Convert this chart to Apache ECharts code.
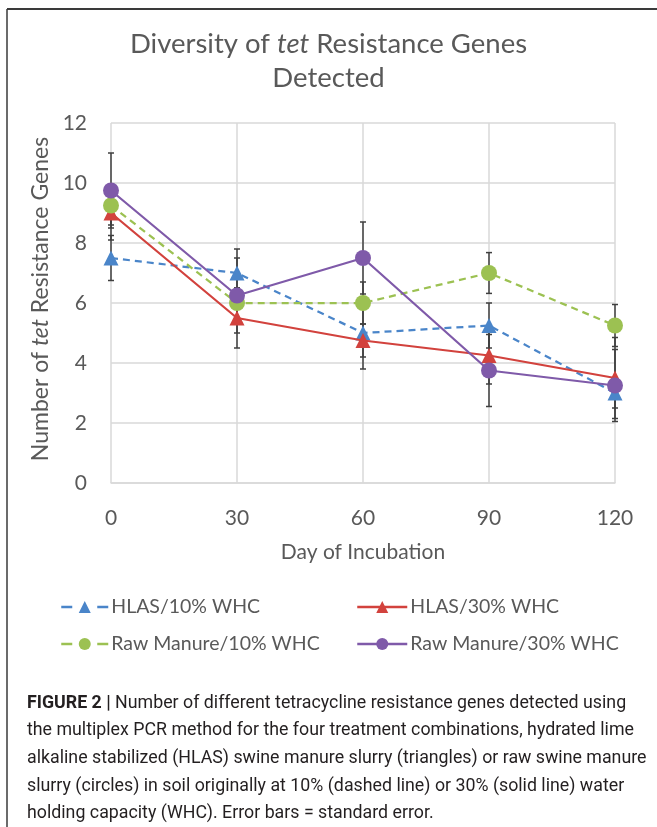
<!DOCTYPE html>
<html>
<head>
<meta charset="utf-8">
<script src="https://cdn.jsdelivr.net/npm/echarts@6/dist/echarts.min.js"></script>
<style>
  html, body { margin: 0; padding: 0; background: #fff; }
  #chart { width: 657px; height: 827px; }
</style>
</head>
<body>
<div id="chart"></div>
<script>
(function () {
  'use strict';

  // data
  var days = [0, 30, 60, 90, 120];
  var hlas10 = [7.5, 7.0, 5.0, 5.25, 3.0];
  var hlas30 = [9.0, 5.5, 4.75, 4.25, 3.5];
  var raw10 = [9.25, 6.0, 6.0, 7.0, 5.25];
  var raw30 = [9.75, 6.25, 7.5, 3.75, 3.25];
  // standard errors
  var hlas10Err = [0.75, 0.8, 1.2, 0.75, 0.5];
  var hlas30Err = [0.9, 1.0, 0.55, 0.95, 1.35];
  var raw10Err = [0.65, 0.5, 0.7, 0.68, 0.7];
  var raw30Err = [1.25, 1.25, 1.2, 1.2, 1.2];
  var yTicks = [0, 2, 4, 6, 8, 10, 12];

  var names = ['HLAS/10% WHC', 'HLAS/30% WHC', 'Raw Manure/10% WHC', 'Raw Manure/30% WHC'];
  var colors = ['#4a85c9', '#d2423d', '#9cc152', '#7f5aa9'];
  var captionLines = [
    '{b|FIGURE 2 |} Number of different tetracycline resistance genes detected using',
    'the multiplex PCR method for the four treatment combinations, hydrated lime',
    'alkaline stabilized (HLAS) swine manure slurry (triangles) or raw swine manure',
    'slurry (circles) in soil originally at 10% (dashed line) or 30% (solid line) water',
    'holding capacity (WHC). Error bars = standard error.'
  ];

  var font = 'Lato';
  var txt = '#595959';

  function pairs(vals) {
    return days.map(function (d, i) { return [d, vals[i]]; });
  }
  function errData(vals, errs) {
    return days.map(function (d, i) { return [d, vals[i] - errs[i], vals[i] + errs[i]]; });
  }

  function errorBars(vals, errs) {
    return {
      type: 'custom',
      z: 1,
      silent: true,
      data: errData(vals, errs),
      renderItem: function (params, api) {
        var lo = api.coord([api.value(0), api.value(1)]);
        var hi = api.coord([api.value(0), api.value(2)]);
        var w = 3;
        var st = { stroke: '#3f3f3f', lineWidth: 1.5 };
        return {
          type: 'group',
          children: [
            { type: 'line', shape: { x1: hi[0], y1: hi[1], x2: lo[0], y2: lo[1] }, style: st },
            { type: 'line', shape: { x1: hi[0] - w, y1: hi[1], x2: hi[0] + w, y2: hi[1] }, style: st },
            { type: 'line', shape: { x1: lo[0] - w, y1: lo[1], x2: lo[0] + w, y2: lo[1] }, style: st }
          ]
        };
      }
    };
  }

  function lineSeries(i, vals, symbol, dashed) {
    return {
      name: names[i],
      type: 'line',
      z: 3 + i,
      data: pairs(vals),
      symbol: symbol,
      symbolSize: symbol === 'circle' ? 16 : 15,
      color: colors[i],
      lineStyle: { width: 2.25, type: dashed ? [7, 5] : 'solid', color: colors[i] },
      itemStyle: { color: colors[i] }
    };
  }

  function legendAt(i, left, top) {
    var dashed = i % 2 === 0;
    return {
      show: true,
      data: [names[i]],
      left: left,
      top: top,
      itemWidth: dashed ? 47 : 50,
      itemHeight: 15,
      itemGap: 0,
      selectedMode: false,
      lineStyle: dashed ? { type: [11, 25], width: 2.5 } : { width: 2.5 },
      textStyle: { fontFamily: font, fontSize: 19.5, color: txt, padding: [0, 0, 0, -2] }
    };
  }

  var graphics = [
    { type: 'line', shape: { x1: 7, y1: 9, x2: 657, y2: 9 }, style: { stroke: '#3a3a3a', lineWidth: 2 } },
    { type: 'line', shape: { x1: 7, y1: 9, x2: 7, y2: 827 }, style: { stroke: '#3a3a3a', lineWidth: 1.5 } }
  ];
  var capY = [706, 733, 761, 789, 816];
  captionLines.forEach(function (line, i) {
    graphics.push({
      type: 'text',
      left: 27,
      top: capY[i] - 11,
      style: {
        text: line,
        fontFamily: 'Roboto',
        fontSize: 17.8,
        fill: '#231f20',
        rich: {
          b: { fontFamily: 'Roboto', fontSize: 17.8, fontWeight: 'bold', fill: '#231f20' }
        }
      }
    });
  });

  var option = {
    animation: false,
    backgroundColor: '#fff',
    title: {
      text: 'Diversity of {i|tet} Resistance Genes\nDetected',
      left: 'center',
      top: 22,
      textStyle: {
        fontFamily: font, fontSize: 27.5, fontWeight: 'normal', color: txt, lineHeight: 34,
        rich: { i: { fontFamily: font, fontSize: 27.5, fontStyle: 'italic', color: txt, lineHeight: 34 } }
      }
    },
    legend: [
      legendAt(0, 55, 592),
      legendAt(1, 351, 592),
      legendAt(2, 55, 629),
      legendAt(3, 351, 629)
    ],
    grid: { left: 111, right: 42, top: 123, bottom: 344 },
    xAxis: {
      type: 'value',
      min: 0, max: 120, interval: 30,
      name: 'Day of Incubation',
      nameLocation: 'middle',
      nameGap: 59,
      nameTextStyle: { fontFamily: font, fontSize: 21, color: txt },
      axisLine: { show: true, lineStyle: { color: '#d9d9d9', width: 1.5 } },
      axisTick: { show: false },
      axisLabel: { fontFamily: font, fontSize: 21, color: txt, margin: 25 },
      splitLine: { show: true, lineStyle: { color: '#d9d9d9', width: 1.5 } }
    },
    yAxis: {
      type: 'value',
      min: yTicks[0], max: yTicks[yTicks.length - 1], interval: 2,
      name: 'Number of {i|tet} Resistance Genes',
      nameLocation: 'middle',
      nameGap: 57,
      nameRotate: 90,
      nameTextStyle: {
        fontFamily: font, fontSize: 23, color: txt, padding: [0, 0, 0, 8],
        rich: { i: { fontFamily: font, fontSize: 23, fontStyle: 'italic', color: txt } }
      },
      axisLine: { show: false },
      axisTick: { show: false },
      axisLabel: { fontFamily: font, fontSize: 21, color: txt, margin: 24 },
      splitLine: { show: true, lineStyle: { color: '#d9d9d9', width: 1.5 } }
    },
    graphic: graphics,
    series: [
      errorBars(hlas10, hlas10Err),
      errorBars(hlas30, hlas30Err),
      errorBars(raw10, raw10Err),
      errorBars(raw30, raw30Err),
      lineSeries(0, hlas10, 'triangle', true),
      lineSeries(1, hlas30, 'triangle', false),
      lineSeries(2, raw10, 'circle', true),
      lineSeries(3, raw30, 'circle', false)
    ]
  };

  var myChart = echarts.init(document.getElementById('chart'));
  myChart.setOption(option);
})();
</script>
</body>
</html>
